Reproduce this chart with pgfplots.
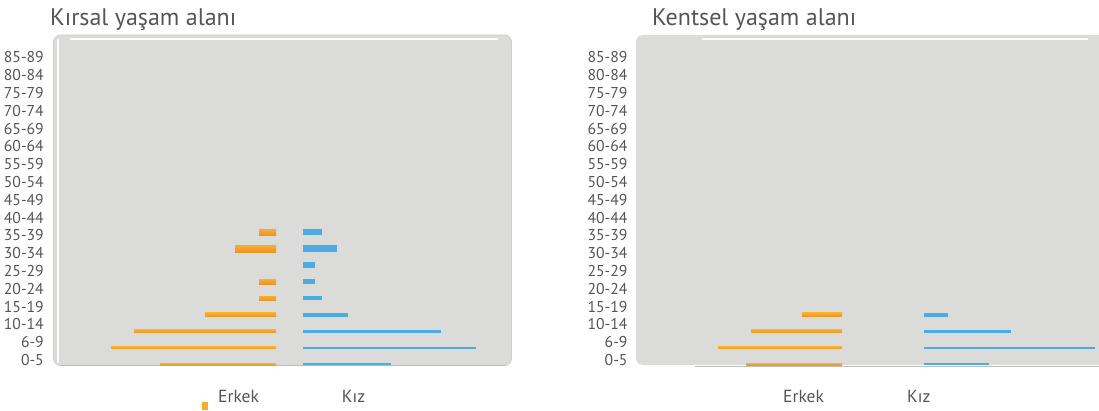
\documentclass[border=0pt]{standalone}
\usepackage{pgfplots}
\pgfplotsset{compat=1.18}
\usepackage{fontspec}
\setmainfont{PT Sans}
\definecolor{panel}{HTML}{DBDBDA}
\definecolor{panelrim}{HTML}{CFCFCE}
\definecolor{txt}{HTML}{555555}
\definecolor{orT}{HTML}{F8AD2E}
\definecolor{orB}{HTML}{EB9624}
\definecolor{blu}{HTML}{4AACE1}
\definecolor{edge}{HTML}{BDBDBD}

\pgfplotsset{
 labelaxis/.style={scale only axis, width=10pt, height=302.7pt,
   ymin=0, ymax=17, xmin=0, xmax=1,
   axis line style={draw=none}, xtick=\empty,
   ytick={0,...,17},
   yticklabels={0-5,6-9,10-14,15-19,20-24,25-29,30-34,35-39,40-44,45-49,50-54,55-59,60-64,65-69,70-74,75-79,80-84,85-89},
   major tick length=0pt,
   yticklabel style={font=\fontsize{15.7}{16}\selectfont, text=txt, inner sep=0pt, anchor=east},
   anchor=south west},
 baraxis/.style={scale only axis, height=132.3pt, ymin=0, ymax=8, xmin=0,
   hide axis, clip=false},
 mbar/.style={xbar, bar shift=0pt, draw=none, top color=orT, bottom color=orB},
 fbar/.style={xbar, bar shift=0pt, draw=none, fill=blu},
}

\begin{document}
\begin{tikzpicture}[x=1pt,y=1pt]
\path[use as bounding box] (0,0) rectangle (1099,410);

% panels
\fill[panel, draw=panelrim, line width=0.8pt, rounded corners=7pt] (53.5,44.5) rectangle (511.5,375);
\draw[edge, line width=1pt] (60,44.4) -- (505,44.4);
\draw[white!92!panel, line width=1.6pt] (58,47) -- (58,371);
\draw[white, line width=1.2pt] (70,371) -- (498,371);

\fill[panel, rounded corners=7pt] (636,45) rectangle (1130,375);
\draw[edge, line width=1pt] (695,43.3) -- (1099,43.3);
\draw[white, line width=1.2pt] (702,371) -- (1088,371);

% titles
\node[anchor=base west, inner sep=0pt, font=\fontsize{24}{26}\selectfont, text=txt] at (50pt,384pt) {Kırsal yaşam alanı};
\node[anchor=base west, inner sep=0pt, font=\fontsize{24}{26}\selectfont, text=txt] at (652pt,384pt) {Kentsel yaşam alanı};

% category labels
\begin{axis}[labelaxis, at={(44pt,50pt)}]
\end{axis}
\begin{axis}[labelaxis, at={(627.7pt,50pt)}]
\end{axis}

% ---- Kirsal: Erkek (rows 0..8 from bottom)
\begin{axis}[baraxis, x dir=reverse, xmax=170, width=170pt, anchor=south east, at={(276pt,45.7pt)}]
\addplot[mbar, bar width=2.3pt] coordinates {(116,0)};
\addplot[mbar, bar width=2.2pt] coordinates {(165,1)};
\addplot[mbar, bar width=3pt]   coordinates {(142,2)};
\addplot[mbar, bar width=3.7pt] coordinates {(71,3)};
\addplot[mbar, bar width=4pt]   coordinates {(17,4)};
\addplot[mbar, bar width=5pt]   coordinates {(17,5)};
\addplot[mbar, bar width=6pt]   coordinates {(0,6)};
\addplot[mbar, bar width=7pt]   coordinates {(41,7)};
\addplot[mbar, bar width=6pt]   coordinates {(17,8)};
\end{axis}
% ---- Kirsal: Kiz
\begin{axis}[baraxis, xmax=180, width=180pt, anchor=south west, at={(303pt,45.7pt)}]
\addplot[fbar, bar width=2.3pt] coordinates {(88,0)};
\addplot[fbar, bar width=2.2pt] coordinates {(173,1)};
\addplot[fbar, bar width=3pt]   coordinates {(138,2)};
\addplot[fbar, bar width=3.7pt] coordinates {(45,3)};
\addplot[fbar, bar width=4pt]   coordinates {(19,4)};
\addplot[fbar, bar width=5pt]   coordinates {(12,5)};
\addplot[fbar, bar width=6pt]   coordinates {(12,6)};
\addplot[fbar, bar width=7pt]   coordinates {(34,7)};
\addplot[fbar, bar width=6pt]   coordinates {(19,8)};
\end{axis}

% ---- Kentsel: Erkek
\begin{axis}[baraxis, x dir=reverse, xmax=170, width=170pt, anchor=south east, at={(842pt,45.7pt)}]
\addplot[mbar, bar width=2.2pt] coordinates {(96,0)};
\addplot[mbar, bar width=2.2pt] coordinates {(124,1)};
\addplot[mbar, bar width=3pt]   coordinates {(91,2)};
\addplot[mbar, bar width=3.7pt] coordinates {(40,3)};
\end{axis}
% ---- Kentsel: Kiz
\begin{axis}[baraxis, xmax=180, width=180pt, anchor=south west, at={(924pt,45.7pt)}]
\addplot[fbar, bar width=2.2pt] coordinates {(65,0)};
\addplot[fbar, bar width=2.2pt] coordinates {(171,1)};
\addplot[fbar, bar width=3pt]   coordinates {(87,2)};
\addplot[fbar, bar width=3.7pt] coordinates {(24,3)};
\end{axis}

% legends
\fill[orT] (202,0) rectangle (208,7.7);
\node[anchor=base west, inner sep=0pt, font=\fontsize{17.5}{19}\selectfont, text=txt] at (218pt,7.3pt) {Erkek};
\node[anchor=base west, inner sep=0pt, font=\fontsize{17.5}{19}\selectfont, text=txt] at (341.7pt,7.3pt) {Kız};
\node[anchor=base west, inner sep=0pt, font=\fontsize{17.5}{19}\selectfont, text=txt] at (783pt,7.3pt) {Erkek};
\node[anchor=base west, inner sep=0pt, font=\fontsize{17.5}{19}\selectfont, text=txt] at (907pt,7.3pt) {Kız};
\end{tikzpicture}
\end{document}
